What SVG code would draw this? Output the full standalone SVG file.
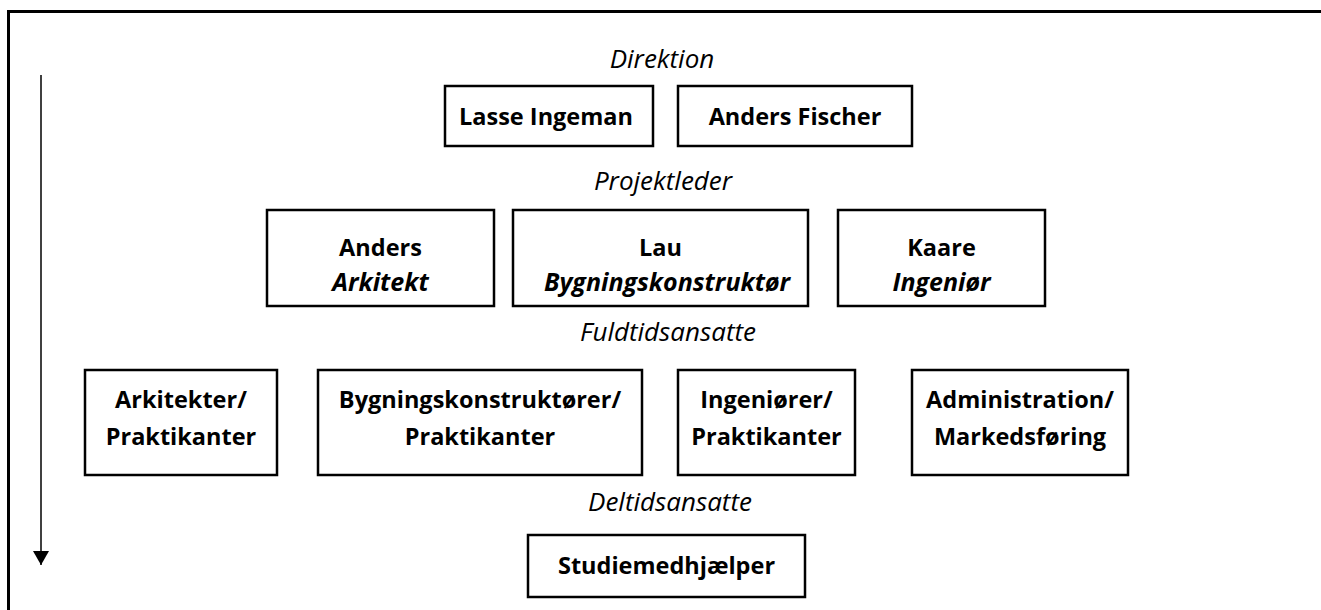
<svg xmlns="http://www.w3.org/2000/svg" width="1321" height="610" viewBox="0 0 1321 610">
<style>
.box{fill:#fff;stroke:#000;stroke-width:2.5}
.b{font-family:"Open Sans","Liberation Sans",sans-serif;font-weight:bold;font-size:23.5px;text-anchor:middle;fill:#000}
.i{font-family:"Open Sans","Liberation Sans",sans-serif;font-style:italic;font-size:26px;text-anchor:middle;fill:#000}
.bi{font-family:"Open Sans","Liberation Sans",sans-serif;font-style:italic;font-weight:bold;font-size:25px;text-anchor:middle;fill:#000}
</style>
<defs>
<marker id="ah" viewBox="0 0 14 16" refX="14" refY="8" markerWidth="14" markerHeight="16" markerUnits="userSpaceOnUse" orient="auto">
<path d="M0,0 L14,8 L0,16 Z" fill="#000"/>
</marker>
</defs>
<rect width="1321" height="610" fill="#fff"/>
<g id="frame" fill="none" stroke="#000" stroke-width="3">
<path d="M8.5,610 L8.5,11.5 L1321,11.5"/>
</g>
<g id="connectors">
<line x1="41" y1="75" x2="41" y2="565" stroke="#000" stroke-width="1.5" marker-end="url(#ah)"/>
</g>
<g id="lbl-direktion"><text class="i" x="662" y="68">Direktion</text></g>
<g id="n-lasse"><rect class="box" x="445" y="86" width="208" height="60"/><text class="b" x="546" y="125">Lasse Ingeman</text></g>
<g id="n-fischer"><rect class="box" x="678" y="86" width="234" height="60"/><text class="b" x="795" y="125">Anders Fischer</text></g>
<g id="lbl-projektleder"><text class="i" x="663" y="190">Projektleder</text></g>
<g id="n-anders"><rect class="box" x="267" y="210" width="227" height="96"/><text class="b" x="380.5" y="256">Anders</text><text class="bi" x="380.5" y="291">Arkitekt</text></g>
<g id="n-lau"><rect class="box" x="513" y="210" width="295" height="96"/><text class="b" x="660.5" y="256">Lau</text><text class="bi" x="667" y="291">Bygningskonstruktør</text></g>
<g id="n-kaare"><rect class="box" x="838" y="210" width="207" height="96"/><text class="b" x="941.5" y="256">Kaare</text><text class="bi" x="941.5" y="291">Ingeniør</text></g>
<g id="lbl-fuldtid"><text class="i" x="668" y="341">Fuldtidsansatte</text></g>
<g id="n-ark"><rect class="box" x="85" y="370" width="192" height="105"/><text class="b" x="181" y="408">Arkitekter/</text><text class="b" x="181" y="445">Praktikanter</text></g>
<g id="n-byg"><rect class="box" x="318" y="370" width="324" height="105"/><text class="b" x="480" y="408">Bygningskonstruktører/</text><text class="b" x="480" y="445">Praktikanter</text></g>
<g id="n-ing"><rect class="box" x="678" y="370" width="177" height="105"/><text class="b" x="766.5" y="408">Ingeniører/</text><text class="b" x="766.5" y="445">Praktikanter</text></g>
<g id="n-adm"><rect class="box" x="912" y="370" width="216" height="105"/><text class="b" x="1020" y="408">Administration/</text><text class="b" x="1020" y="445">Markedsføring</text></g>
<g id="lbl-deltid"><text class="i" x="670" y="511">Deltidsansatte</text></g>
<g id="n-studie"><rect class="box" x="528" y="535" width="277" height="62"/><text class="b" x="666.5" y="574">Studiemedhjælper</text></g>
</svg>
